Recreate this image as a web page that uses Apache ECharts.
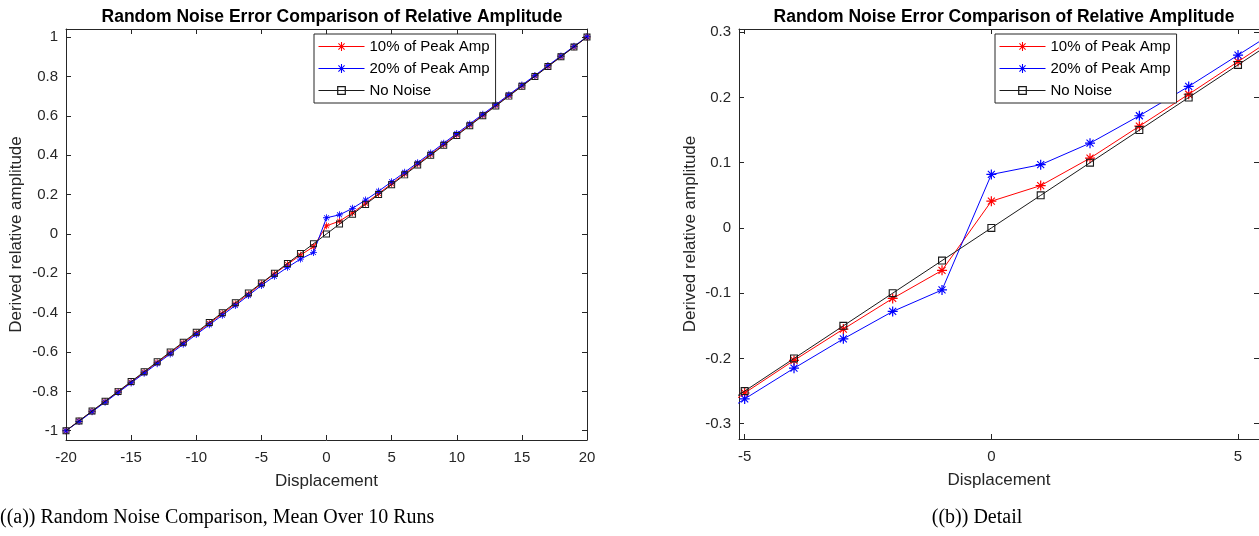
<!DOCTYPE html>
<html>
<head>
<meta charset="utf-8">
<script src="https://cdn.jsdelivr.net/npm/echarts@6/dist/echarts.min.js"></script>
<style>
html,body{margin:0;padding:0;background:#fff;}
#chart{width:1259px;height:536px;}
</style>
</head>
<body>
<div id="chart"></div>
<script>
// ---- data ----
const displacement = [-20,-19,-18,-17,-16,-15,-14,-13,-12,-11,-10,-9,-8,-7,-6,-5,-4,-3,-2,-1,0,1,2,3,4,5,6,7,8,9,10,11,12,13,14,15,16,17,18,19,20];
const noise10 = [-1.000,-0.951,-0.901,-0.852,-0.802,-0.753,-0.703,-0.654,-0.604,-0.554,-0.505,-0.455,-0.405,-0.356,-0.306,-0.253,-0.203,-0.155,-0.108,-0.065,0.041,0.065,0.107,0.156,0.205,0.255,0.305,0.355,0.404,0.454,0.504,0.553,0.603,0.653,0.703,0.752,0.802,0.852,0.901,0.951,1.000];
const noise20 = [-1.000,-0.953,-0.904,-0.855,-0.806,-0.757,-0.708,-0.659,-0.610,-0.561,-0.511,-0.462,-0.413,-0.364,-0.313,-0.262,-0.215,-0.170,-0.128,-0.095,0.082,0.097,0.130,0.172,0.217,0.265,0.313,0.362,0.411,0.461,0.510,0.559,0.608,0.657,0.707,0.756,0.805,0.855,0.904,0.953,1.002];
const noNoise = [-1.00,-0.95,-0.90,-0.85,-0.80,-0.75,-0.70,-0.65,-0.60,-0.55,-0.50,-0.45,-0.40,-0.35,-0.30,-0.25,-0.20,-0.15,-0.10,-0.05,0.00,0.05,0.10,0.15,0.20,0.25,0.30,0.35,0.40,0.45,0.50,0.55,0.60,0.65,0.70,0.75,0.80,0.85,0.90,0.95,1.00];
const seriesNames = ['10% of Peak Amp','20% of Peak Amp','No Noise'];
const leftXTicks = [-20,-15,-10,-5,0,5,10,15,20];
const leftYTicks = [-1,-0.8,-0.6,-0.4,-0.2,0,0.2,0.4,0.6,0.8,1];
const rightXTicks = [-5,0,5];
const rightYTicks = [-0.3,-0.2,-0.1,0,0.1,0.2,0.3];
const chartTitle = 'Random Noise Error Comparison of Relative Amplitude';
const xName = 'Displacement';
const yName = 'Derived relative amplitude';
const captionA = '((a)) Random Noise Comparison, Mean Over 10 Runs';
const captionB = '((b)) Detail';

// ---- styling ----
const FONT = 'Liberation Sans, Arial, sans-serif';
const AX = '#262626';
// filled asterisk (four thin arms, same winding)
const ASTER = 'path://M4.4,0L5.6,0L5.6,10L4.4,10Z' +
  'M0,4.4L10,4.4L10,5.6L0,5.6Z' +
  'M1.9,1.1L8.9,8.1L8.1,8.9L1.1,1.9Z' +
  'M8.1,1.1L8.9,1.9L1.9,8.9L1.1,8.1Z';
// hollow square (outer and inner with opposite winding)
const SQUARE = 'path://M0,0L10,0L10,10L0,10Z M1.4,1.4L1.4,8.6L8.6,8.6L8.6,1.4Z';
const colors = ['#ff0000','#0000ff','#1a1a1a'];
const symbols = [ASTER, ASTER, SQUARE];
const datasets = [noise10, noise20, noNoise];

function pairs(ys){ return displacement.map((x,i)=>[x, ys[i]]); }

function xAxis(gi, min, max, ticks, pos, showName){
  return {
    type:'value', gridIndex:gi, min:min, max:max, position:pos,
    name: showName ? xName : '', nameLocation:'middle', nameGap:33,
    nameTextStyle:{fontFamily:FONT,fontSize:17,color:AX},
    axisLine:{show:true,onZero:false,lineStyle:{color:AX,width:1}},
    axisTick:{show:true,inside:true,length:5,customValues:ticks,lineStyle:{color:AX}},
    axisLabel:{show:pos==='bottom',customValues:ticks,fontFamily:FONT,fontSize:15,color:AX,margin:10},
    splitLine:{show:false}
  };
}
function yAxis(gi, min, max, ticks, pos, showName, gap){
  return {
    type:'value', gridIndex:gi, min:min, max:max, position:pos,
    name: showName ? yName : '', nameLocation:'middle', nameGap:gap, nameRotate:90,
    nameTextStyle:{fontFamily:FONT,fontSize:17,color:AX},
    axisLine:{show:true,onZero:false,lineStyle:{color:AX,width:1}},
    axisTick:{show:true,inside:true,length:5,customValues:ticks,lineStyle:{color:AX}},
    axisLabel:{show:pos==='left',customValues:ticks,fontFamily:FONT,fontSize:15,color:AX,margin:8,
      formatter:v=>String(+v.toFixed(2))},
    splitLine:{show:false}
  };
}

const series = [];
[0,1].forEach(gi=>{
  seriesNames.forEach((nm,k)=>{
    const isSq = k===2;
    series.push({
      type:'line', name:nm, xAxisIndex:gi, yAxisIndex:gi,
      data:pairs(datasets[k]),
      symbol:symbols[k],
      symbolSize: gi===0 ? 7 : (isSq ? 8 : 10),
      showAllSymbol:true,
      lineStyle:{color:colors[k],width:1},
      itemStyle:{color:colors[k],borderWidth:0},
      emphasis:{disabled:true},
      animation:false,
      z: 2+k
    });
  });
});

function legend(left){
  return {
    data:seriesNames, left:left, top:34, orient:'vertical',
    itemWidth:46, itemHeight:11, itemGap:7,
    padding:[5,6,5,4],
    backgroundColor:'#fff', borderColor:AX, borderWidth:1,
    lineStyle:{width:1},
    textStyle:{fontFamily:FONT,fontSize:15,color:'#000'},
    selectedMode:false
  };
}

const option = {
  animation:false,
  backgroundColor:'#fff',
  title:[
    {text:chartTitle,left:327,top:3,textAlign:'center',textStyle:{fontFamily:FONT,fontSize:17.5,fontWeight:'bold',color:'#000'}},
    {text:chartTitle,left:999,top:3,textAlign:'center',textStyle:{fontFamily:FONT,fontSize:17.5,fontWeight:'bold',color:'#000'}}
  ],
  grid:[
    {left:66,top:29,width:521,height:411},
    {left:739,top:29,width:521,height:410}
  ],
  xAxis:[
    xAxis(0,-20,20,leftXTicks,'bottom',true),
    xAxis(1,-5.115,5.425,rightXTicks,'bottom',true),
    xAxis(0,-20,20,leftXTicks,'top',false),
    xAxis(1,-5.115,5.425,rightXTicks,'top',false)
  ],
  yAxis:[
    yAxis(0,-1.047,1.041,leftYTicks,'left',true,41),
    yAxis(1,-0.3235,0.305,rightYTicks,'left',true,40),
    yAxis(0,-1.047,1.041,leftYTicks,'right',false,0),
    yAxis(1,-0.3235,0.305,rightYTicks,'right',false,0)
  ],
  legend:[legend(314),legend(995)],
  series:series,
  graphic:[
    {type:'text',left:0,top:508,style:{text:captionA,fontFamily:'Liberation Serif, serif',fontSize:20,fill:'#000'}},
    {type:'text',x:977,y:508,style:{text:captionB,fontFamily:'Liberation Serif, serif',fontSize:20,fill:'#000',align:'center',verticalAlign:'top'}}
  ]
};

const chart = echarts.init(document.getElementById('chart'),null,{renderer:'canvas'});
chart.setOption(option);
</script>
</body>
</html>
